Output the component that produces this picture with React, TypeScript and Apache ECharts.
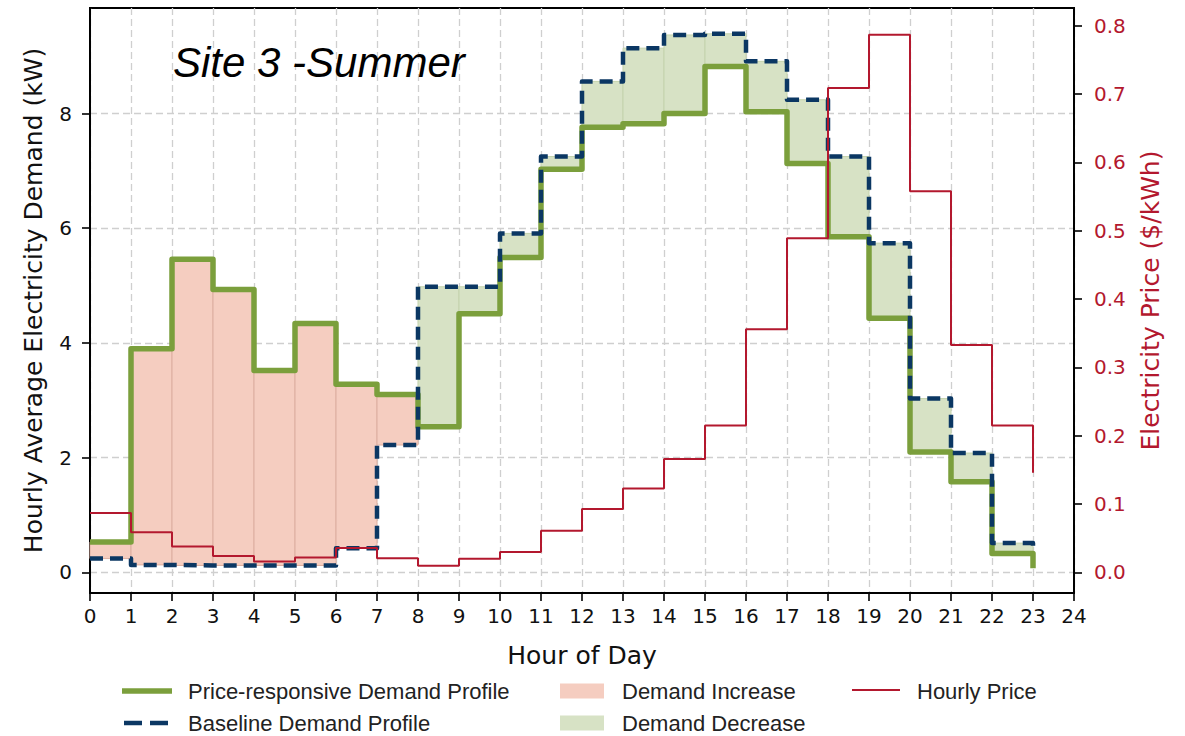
import React, { useEffect, useRef } from "react";
import * as echarts from "echarts";

const hours = [0, 1, 2, 3, 4, 5, 6, 7, 8, 9, 10, 11, 12, 13, 14, 15, 16, 17, 18, 19, 20, 21, 22, 23];
const priceResponsive = [0.53, 3.9, 5.46, 4.93, 3.52, 4.34, 3.28, 3.1, 2.54, 4.51, 5.49, 7.03, 7.76, 7.82, 8.0, 8.82, 8.03, 7.13, 5.85, 4.43, 2.1, 1.58, 0.33, 0.07];
const baseline = [0.24, 0.13, 0.12, 0.12, 0.12, 0.12, 0.42, 2.22, 4.98, 4.98, 5.91, 7.25, 8.56, 9.14, 9.37, 9.39, 8.91, 8.24, 7.25, 5.74, 3.03, 2.08, 0.51, 0.45];
const hourlyPrice = [0.087, 0.059, 0.038, 0.024, 0.016, 0.022, 0.036, 0.021, 0.01, 0.02, 0.03, 0.061, 0.093, 0.123, 0.166, 0.215, 0.356, 0.489, 0.709, 0.787, 0.558, 0.333, 0.215, 0.146];
const hourTicks = [0, 1, 2, 3, 4, 5, 6, 7, 8, 9, 10, 11, 12, 13, 14, 15, 16, 17, 18, 19, 20, 21, 22, 23, 24];
const demandTicks = [0, 2, 4, 6, 8];
const priceTicks = [0, 0.1, 0.2, 0.3, 0.4, 0.5, 0.6, 0.7, 0.8];
const legendLabels = ["Price-responsive Demand Profile", "Baseline Demand Profile", "Demand Increase", "Demand Decrease", "Hourly Price"];

const GREEN = "#7b9f3c";
const BLUE = "#0b3763";
const RED = "#b3182e";
const PINK_FILL = "#f5cdc0";
const PINK_EDGE = "#dcaea0";
const GREEN_FILL = "#d7e2c5";
const GREEN_EDGE = "#c4d3ad";

const TICK_FONT = "DejaVu Sans";
const LEGEND_FONT = "Liberation Sans";

function fillRender(wantIncrease: boolean, fill: string, edge: string) {
  return (params: any, api: any) => {
    const h = api.value(0);
    const a = api.value(1);
    const b = api.value(2);
    const inc = a > b;
    if (inc !== wantIncrease) return null;
    const p0 = api.coord([h, Math.max(a, b)]);
    const p1 = api.coord([h + 1, Math.min(a, b)]);
    return {
      type: "rect",
      shape: { x: p0[0], y: p0[1], width: p1[0] - p0[0], height: p1[1] - p0[1] },
      style: { fill, stroke: edge, lineWidth: 1 },
    };
  };
}

function legendText(text: string, x: number, y: number) {
  return {
    type: "text",
    x,
    y,
    style: { text, fontFamily: LEGEND_FONT, fontSize: 22, fill: "#222", verticalAlign: "middle", align: "left" },
  };
}

export default function App() {
  const ref = useRef<HTMLDivElement>(null);
  useEffect(() => {
    if (!ref.current) return;
    const chart = echarts.init(ref.current, null, { renderer: "svg" });
    const fillData = hours.slice(0, hours.length - 1).map((h) => [h, priceResponsive[h], baseline[h]]);
    const row1 = 691;
    const row2 = 723;
    const option: any = {
      animation: false,
      backgroundColor: "#ffffff",
      title: {
        text: "Site 3 -Summer",
        left: 168,
        top: 36,
        textStyle: { fontFamily: LEGEND_FONT, fontStyle: "italic", fontWeight: "normal", fontSize: 42, color: "#000" },
      },
      grid: { left: 90, right: 111, top: 8, bottom: 143, show: true, borderColor: "#000", borderWidth: 2, backgroundColor: "transparent" },
      graphic: [
        { type: "line", shape: { x1: 122, y1: row1, x2: 172, y2: row1 }, style: { stroke: GREEN, lineWidth: 5.5 } },
        legendText(legendLabels[0], 188, row1),
        { type: "line", shape: { x1: 124, y1: row2, x2: 142, y2: row2 }, style: { stroke: BLUE, lineWidth: 4.5 } },
        { type: "line", shape: { x1: 150, y1: row2, x2: 168, y2: row2 }, style: { stroke: BLUE, lineWidth: 4.5 } },
        legendText(legendLabels[1], 188, row2),
        { type: "rect", shape: { x: 560, y: row1 - 7.5, width: 44, height: 15 }, style: { fill: PINK_FILL } },
        legendText(legendLabels[2], 622, row1),
        { type: "rect", shape: { x: 560, y: row2 - 7.5, width: 44, height: 15 }, style: { fill: GREEN_FILL } },
        legendText(legendLabels[3], 622, row2),
        { type: "line", shape: { x1: 852, y1: row1 - 1, x2: 900, y2: row1 - 1 }, style: { stroke: RED, lineWidth: 2.2 } },
        legendText(legendLabels[4], 917, row1),
      ],
      xAxis: {
        type: "value",
        min: 0,
        max: 24,
        interval: 1,
        name: "Hour of Day",
        nameLocation: "middle",
        nameGap: 50,
        nameTextStyle: { fontFamily: TICK_FONT, fontSize: 25, color: "#111" },
        axisLine: { show: true, onZero: false, lineStyle: { color: "#000", width: 2 } },
        axisTick: { show: true, length: 8, lineStyle: { color: "#000", width: 1.6 } },
        axisLabel: { fontFamily: TICK_FONT, fontSize: 20, color: "#111", margin: 13, customValues: hourTicks },
        splitLine: { show: true, lineStyle: { color: "#cfcfcf", type: [7, 4], width: 1.3 } },
      },
      yAxis: [
        {
          type: "value",
          min: -0.36,
          max: 9.84,
          name: "Hourly Average Electricity Demand (kW)",
          nameLocation: "middle",
          nameGap: 44,
          nameTextStyle: { fontFamily: TICK_FONT, fontSize: 25, color: "#111" },
          axisLine: { show: true, onZero: false, lineStyle: { color: "#000", width: 2 } },
          axisTick: { show: true, length: 8, lineStyle: { color: "#000", width: 1.6 }, customValues: demandTicks },
          axisLabel: { fontFamily: TICK_FONT, fontSize: 20, color: "#111", margin: 18, customValues: demandTicks },
          splitLine: { show: true, lineStyle: { color: "#cfcfcf", type: [7, 4], width: 1.3 } },
        },
        {
          type: "value",
          min: -0.03,
          max: 0.826,
          position: "right",
          name: "Electricity Price ($/kWh)",
          nameLocation: "middle",
          nameGap: 64,
          nameRotate: 90,
          nameTextStyle: { fontFamily: TICK_FONT, fontSize: 25, color: RED },
          axisLine: { show: true, onZero: false, lineStyle: { color: "#000", width: 2 } },
          axisTick: { show: true, length: 8, lineStyle: { color: "#000", width: 1.6 }, customValues: priceTicks },
          axisLabel: {
            fontFamily: TICK_FONT,
            fontSize: 20,
            color: RED,
            margin: 20,
            customValues: priceTicks,
            formatter: (v: number) => v.toFixed(1),
          },
          splitLine: { show: false },
        },
      ],
      series: [
        {
          name: "Demand Increase",
          type: "custom",
          xAxisIndex: 0,
          yAxisIndex: 0,
          z: 1,
          itemStyle: { color: PINK_FILL },
          encode: { x: 0, y: [1, 2] },
          renderItem: fillRender(true, PINK_FILL, PINK_EDGE),
          data: fillData,
        },
        {
          name: "Demand Decrease",
          type: "custom",
          xAxisIndex: 0,
          yAxisIndex: 0,
          z: 1,
          itemStyle: { color: GREEN_FILL },
          encode: { x: 0, y: [1, 2] },
          renderItem: fillRender(false, GREEN_FILL, GREEN_EDGE),
          data: fillData,
        },
        {
          name: "Price-responsive Demand Profile",
          type: "line",
          step: "end",
          yAxisIndex: 0,
          z: 3,
          symbol: "none",
          itemStyle: { color: GREEN },
          lineStyle: { color: GREEN, width: 5.5, join: "round" },
          data: hours.map((h) => [h, priceResponsive[h]]),
        },
        {
          name: "Baseline Demand Profile",
          type: "line",
          step: "end",
          yAxisIndex: 0,
          z: 4,
          symbol: "none",
          itemStyle: { color: BLUE },
          lineStyle: { color: BLUE, width: 4.5, type: [13, 7], join: "round" },
          data: hours.map((h) => [h, baseline[h]]),
        },
        {
          name: "Hourly Price",
          type: "line",
          step: "end",
          yAxisIndex: 1,
          z: 5,
          symbol: "none",
          itemStyle: { color: RED },
          lineStyle: { color: RED, width: 2 },
          data: hours.map((h) => [h, hourlyPrice[h]]),
        },
      ],
    };
    chart.setOption(option);
    return () => chart.dispose();
  }, []);
  return <div ref={ref} style={{ position: "fixed", left: 0, top: 0, width: 1185, height: 736, background: "#fff" }} />;
}
